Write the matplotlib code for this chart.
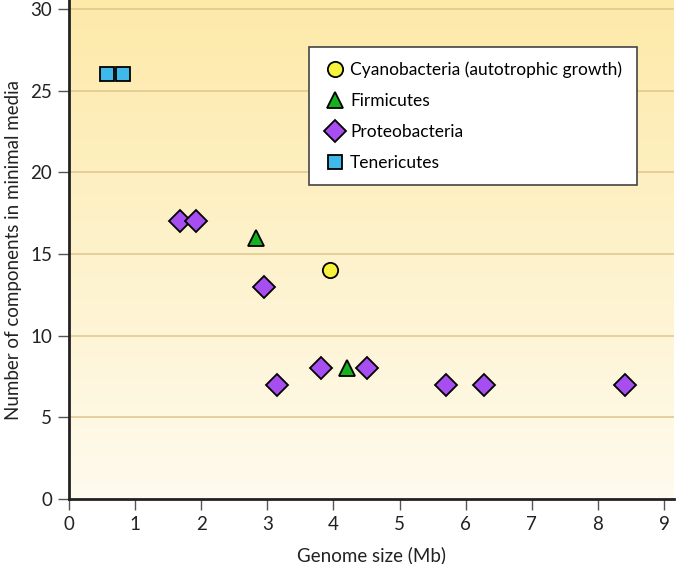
import numpy as np
import matplotlib.pyplot as plt
from matplotlib.colors import LinearSegmentedColormap

plt.rcParams['font.family'] = ['Lato', 'DejaVu Sans']

# data
cyano_x = [3.95]
cyano_y = [14]
firm_x = [2.83, 4.21]
firm_y = [16, 8]
proteo_x = [1.68, 1.92, 2.95, 3.15, 3.81, 4.51, 5.70, 6.28, 8.41]
proteo_y = [17, 17, 13, 7, 8, 8, 7, 7, 7]
tener_x = [0.575, 0.82]
tener_y = [26, 26]

x_ticks = list(range(0, 10))
y_ticks = [0, 5, 10, 15, 20, 25, 30]

fig = plt.figure(figsize=(6.76, 5.64), dpi=100)
ax = fig.add_axes([69/676, 1 - 499/564, 605/676, 499/564])

xlim = (0, 9.15)
ylim = (0, 30.55)

# background gradient, yellow at top fading to cream at bottom
cmap = LinearSegmentedColormap.from_list('bg', ['#fffbee', '#fde9a8'])
grad = np.linspace(0, 1, 256).reshape(-1, 1)
ax.imshow(grad, cmap=cmap, origin='lower', aspect='auto',
          extent=[xlim[0], xlim[1], ylim[0], ylim[1]], zorder=0)

for yv in y_ticks[1:]:
    ax.axhline(yv, color='#e2c892', lw=1.2, zorder=1)

ek = dict(markeredgecolor='black', markeredgewidth=1.3, linestyle='none', zorder=3)
ax.plot(cyano_x, cyano_y, 'o', color='#f7f23c', markersize=11,
        label='Cyanobacteria (autotrophic growth)', **ek)
ax.plot(firm_x, firm_y, '^', color='#16b11e', markersize=12,
        label='Firmicutes', **ek)
ax.plot(proteo_x, proteo_y, 'D', color='#a74ef0', markersize=11,
        label='Proteobacteria', **ek)
ax.plot(tener_x, tener_y, 's', color='#3fb8ea', markersize=10,
        label='Tenericutes', **ek)

ax.set_xlim(*xlim)
ax.set_ylim(*ylim)
ax.set_xticks(x_ticks)
ax.set_yticks(y_ticks)
ax.tick_params(direction='out', length=8, width=1, color='#555555',
               labelsize=13.5, labelcolor='#222222', pad=4)
for s in ['top', 'right']:
    ax.spines[s].set_visible(False)
for s in ['left', 'bottom']:
    ax.spines[s].set_linewidth(2)
    ax.spines[s].set_color('#222222')

ax.set_xlabel('Genome size (Mb)', fontsize=13.5, color='#222222', labelpad=10)
ax.set_ylabel('Number of components in minimal media', fontsize=13.5,
              color='#222222', labelpad=6)

leg = ax.legend(loc='upper right', bbox_to_anchor=((637 - 69)/605, 1 - 47/499),
                frameon=True, fancybox=False, fontsize=12.5, handletextpad=0.3,
                handlelength=1.2, borderpad=0.85, labelspacing=0.85,
                borderaxespad=0)
leg.get_frame().set_edgecolor('#444444')
leg.get_frame().set_linewidth(1.2)
leg.get_frame().set_facecolor('white')
leg.get_frame().set_alpha(1)

fig.savefig('out.png', dpi=100)
